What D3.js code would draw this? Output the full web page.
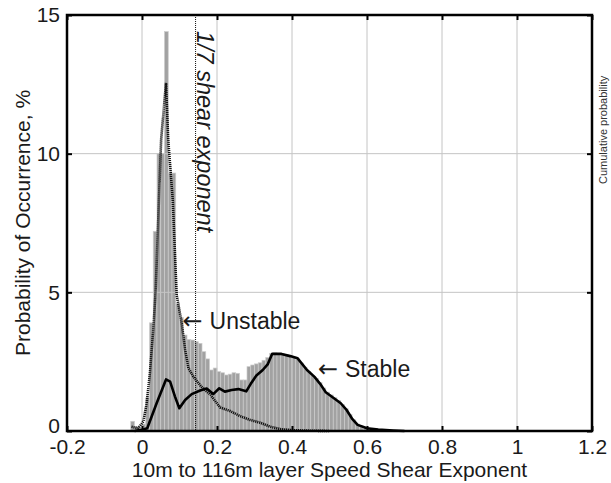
<!DOCTYPE html>
<html>
<head>
<meta charset="utf-8">
<script src="https://cdn.jsdelivr.net/npm/d3@7"></script>
<style>
  body { margin: 0; background: #fff; }
  svg { display: block; font-family: "Liberation Sans", Arial, sans-serif; }
</style>
</head>
<body>
<svg id="chart" width="611" height="483"></svg>
<script>
// histogram bins (left edge, width 0.01) and probability %
const binLeft = [-0.03, -0.02, -0.01, 0.00, 0.01, 0.02, 0.03, 0.04, 0.05, 0.06,
  0.07, 0.08, 0.09, 0.10, 0.11, 0.12, 0.13, 0.14, 0.15, 0.16,
  0.17, 0.18, 0.19, 0.20, 0.21, 0.22, 0.23, 0.24, 0.25, 0.26,
  0.27, 0.28, 0.29, 0.30, 0.31, 0.32, 0.33, 0.34, 0.35, 0.36,
  0.37, 0.38, 0.39, 0.40, 0.41, 0.42, 0.43, 0.44, 0.45, 0.46,
  0.47, 0.48, 0.49, 0.50, 0.51, 0.52, 0.53, 0.54, 0.55, 0.56,
  0.57, 0.58, 0.59, 0.60, 0.61, 0.62, 0.63, 0.64];
const binProb = [0.35, 0.15, 0.1, 0.25, 1.2, 3.9, 7.2, 10.0, 10.0, 14.4,
  9.3, 9.3, 4.6, 4.1, 3.46, 3.3, 3.28, 3.22, 3.16, 2.86,
  2.6, 2.2, 2.27, 2.14, 2.1, 2.02, 2.05, 2.1, 2.08, 1.84,
  1.84, 2.32, 2.38, 2.42, 2.46, 2.55, 2.65, 2.8, 2.82, 2.8,
  2.78, 2.75, 2.7, 2.65, 2.6, 2.45, 2.3, 2.15, 2.0, 1.9,
  1.75, 1.55, 1.4, 1.3, 1.2, 1.1, 0.95, 0.8, 0.6, 0.4,
  0.25, 0.18, 0.12, 0.08, 0.06, 0.04, 0.03, 0.02];
const binWidth = 0.01;

// unstable curve (dotted)
const unstableX = [-0.028, -0.01, 0.0035, 0.0125, 0.021, 0.030, 0.0365, 0.051, 0.064, 0.070,
  0.082, 0.0925, 0.106, 0.115, 0.124, 0.137, 0.158, 0.183, 0.208, 0.235,
  0.261, 0.288, 0.315, 0.341, 0.368, 0.40, 0.45, 0.50];
const unstableP = [0.15, 0.1, 0.34, 1.0, 2.08, 3.64, 5.08, 10.5, 12.55, 10.5,
  8.33, 4.9, 3.88, 2.92, 2.26, 1.96, 1.6, 1.3, 0.85, 0.72,
  0.54, 0.4, 0.3, 0.16, 0.07, 0.03, 0.01, 0];

// stable curve (solid)
const stableX = [-0.02, -0.001, 0.014, 0.039, 0.053, 0.064, 0.075, 0.088, 0.0995, 0.115,
  0.1325, 0.155, 0.1725, 0.19, 0.206, 0.221, 0.239, 0.257, 0.278, 0.29,
  0.305, 0.322, 0.335, 0.347, 0.372, 0.395, 0.415, 0.44, 0.46, 0.475,
  0.49, 0.51, 0.53, 0.546, 0.56, 0.575, 0.60, 0.63, 0.67, 0.70];
const stableP = [0, 0.04, 0.1, 1.0, 1.48, 1.86, 1.78, 1.24, 0.82, 1.12,
  1.33, 1.46, 1.53, 1.33, 1.54, 1.42, 1.48, 1.51, 1.43, 1.7,
  2.0, 2.2, 2.4, 2.78, 2.78, 2.7, 2.62, 2.2, 1.95, 1.7,
  1.4, 1.2, 1.0, 0.75, 0.45, 0.22, 0.1, 0.05, 0.02, 0];

const xTicks = [-0.2, 0, 0.2, 0.4, 0.6, 0.8, 1, 1.2];
const yTicks = [0, 5, 10, 15];
const shearRef = 1 / 7;

const svg = d3.select("#chart");
const mLeft = 67, mRight = 592, mTop = 15, mBottom = 431;

const x = d3.scaleLinear().domain([-0.2, 1.2]).range([mLeft, mRight]);
const y = d3.scaleLinear().domain([0, 15]).range([mBottom, mTop]);

// bars
svg.append("g")
  .selectAll("rect")
  .data(binLeft.map((b, i) => ({ b, p: binProb[i] })))
  .join("rect")
  .attr("x", d => x(d.b))
  .attr("y", d => y(d.p))
  .attr("width", d => x(d.b + binWidth) - x(d.b))
  .attr("height", d => y(0) - y(d.p))
  .attr("fill", "#a2a2a2")
  .attr("stroke", "#cccccc")
  .attr("stroke-width", 0.7);

// grid
const grid = svg.append("g").attr("stroke", "#c4c4c4").attr("stroke-width", 1);
grid.selectAll(".gx")
  .data(xTicks.slice(1, -1))
  .join("line")
  .attr("x1", d => x(d)).attr("x2", d => x(d))
  .attr("y1", mTop).attr("y2", mBottom);
grid.selectAll(".gy")
  .data(yTicks.slice(1, -1))
  .join("line")
  .attr("x1", mLeft).attr("x2", mRight)
  .attr("y1", d => y(d)).attr("y2", d => y(d));

// 1/7 reference line
svg.append("line")
  .attr("x1", x(shearRef)).attr("x2", x(shearRef))
  .attr("y1", mTop).attr("y2", mBottom)
  .attr("stroke", "#111")
  .attr("stroke-width", 1)
  .attr("stroke-dasharray", "1,1");

const line = d3.line().x(d => x(d[0])).y(d => y(d[1]));

svg.append("path")
  .datum(unstableX.map((v, i) => [v, unstableP[i]]))
  .attr("d", line)
  .attr("fill", "none")
  .attr("stroke", "#111")
  .attr("stroke-width", 2.6)
  .attr("stroke-dasharray", "1.2,0.8");

svg.append("path")
  .datum(stableX.map((v, i) => [v, stableP[i]]))
  .attr("d", line)
  .attr("fill", "none")
  .attr("stroke", "#000")
  .attr("stroke-width", 2.6)
  .attr("stroke-linejoin", "round");

// axes (MATLAB box style, ticks inward)
const fmt = d => String(d);
const ax = svg.append("g").attr("transform", `translate(0,${mBottom})`)
  .call(d3.axisBottom(x).tickValues(xTicks).tickFormat(fmt).tickSizeInner(-5).tickSizeOuter(0).tickPadding(8));
const axT = svg.append("g").attr("transform", `translate(0,${mTop})`)
  .call(d3.axisTop(x).tickValues(xTicks).tickFormat("").tickSizeInner(-5).tickSizeOuter(0));
const ay = svg.append("g").attr("transform", `translate(${mLeft},0)`)
  .call(d3.axisLeft(y).tickValues(yTicks).tickFormat(fmt).tickSizeInner(-5).tickSizeOuter(0).tickPadding(7));
const ayR = svg.append("g").attr("transform", `translate(${mRight},0)`)
  .call(d3.axisRight(y).tickValues(yTicks).tickFormat("").tickSizeInner(-5).tickSizeOuter(0));

[ax, axT, ay, ayR].forEach(g => {
  g.select(".domain").remove();
  g.selectAll(".tick line").attr("stroke", "#000").attr("stroke-width", 2);
  g.selectAll("text")
    .attr("font-size", 21)
    .attr("fill", "#1a1a1a")
    .attr("font-family", "Liberation Sans, Arial, sans-serif");
});
// lift the "0" y label a little, as in the reference
ay.selectAll(".tick text").filter(d => d === 0).attr("dy", "0.05em");

svg.append("rect")
  .attr("x", mLeft).attr("y", mTop)
  .attr("width", mRight - mLeft).attr("height", mBottom - mTop)
  .attr("fill", "none")
  .attr("stroke", "#000")
  .attr("stroke-width", 2.5);

// labels
svg.append("text")
  .attr("x", (mLeft + mRight) / 2).attr("y", 477)
  .attr("text-anchor", "middle")
  .attr("font-size", 21).attr("fill", "#1a1a1a")
  .text("10m to 116m layer Speed Shear Exponent");

svg.append("text")
  .attr("transform", `translate(30,${(mTop + mBottom) / 2}) rotate(-90)`)
  .attr("text-anchor", "middle")
  .attr("font-size", 21).attr("fill", "#1a1a1a")
  .text("Probability of Occurrence, %");

svg.append("text")
  .attr("transform", `translate(${x(shearRef) + 1.5},31) rotate(90)`)
  .attr("font-size", 23.5).attr("font-style", "italic").attr("fill", "#1a1a1a")
  .text("1/7 shear exponent");

function arrowLabel(v, baseline, label) {
  const t = svg.append("text")
    .attr("x", x(v)).attr("y", baseline)
    .attr("font-size", 23).attr("fill", "#1a1a1a");
  t.append("tspan").attr("font-family", "DejaVu Sans").attr("font-size", 24).text("\u2190");
  t.append("tspan").attr("dx", 7).text(label);
}
arrowLabel(0.108, 329, "Unstable");
arrowLabel(0.469, 377, "Stable");

svg.append("text")
  .attr("transform", "translate(607,184) rotate(-90)")
  .attr("font-size", 11).attr("fill", "#333")
  .text("Cumulative probability");
</script>
</body>
</html>
